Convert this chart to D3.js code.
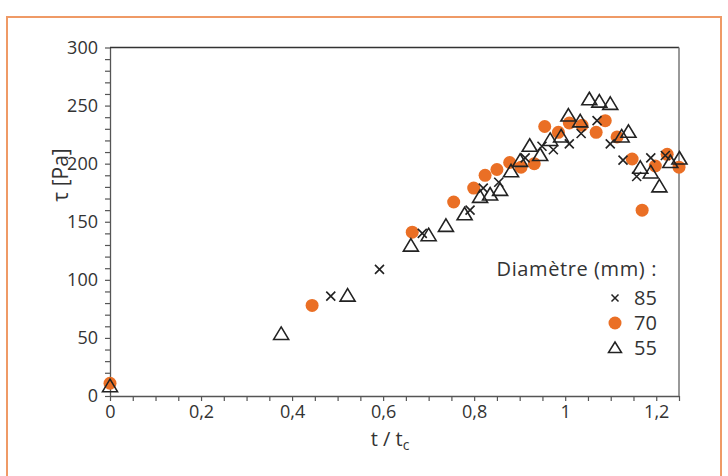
<!DOCTYPE html>
<html>
<head>
<meta charset="utf-8">
<title>Contrainte en fonction de t / tc</title>
<style>
    body { margin: 0; background: #fff; }
    text { font-family: "Open Sans", Lato, sans-serif; font-weight: 400; fill: #333; }
</style>
</head>
<body>
<svg id="chart" width="728" height="476"></svg>
<script src="https://cdn.jsdelivr.net/npm/d3@7"></script>
<script>
    // data
    const t85 = [0.485, 0.592, 0.686, 0.791, 0.820, 0.854, 0.912, 0.949, 0.974, 1.009, 1.035, 1.070, 1.099, 1.127, 1.157, 1.188, 1.220];
    const tau85 = [86, 109, 140, 160, 179, 184, 205, 215, 212, 217, 226, 237, 217, 203, 189, 205, 207];

    const t70 = [0, 0.444, 0.664, 0.755, 0.799, 0.824, 0.850, 0.878, 0.903, 0.932, 0.955, 0.985, 1.009, 1.037, 1.068, 1.088, 1.114, 1.147, 1.169, 1.198, 1.224, 1.250];
    const tau70 = [11, 78, 141, 167, 179, 190, 195, 201, 197, 200, 232, 227, 235, 233, 227, 237, 223, 204, 160, 198, 208, 197];

    const t55 = [0, 0.376, 0.522, 0.661, 0.700, 0.738, 0.779, 0.813, 0.835, 0.857, 0.881, 0.901, 0.922, 0.945, 0.967, 0.991, 1.007, 1.033, 1.053, 1.075, 1.099, 1.124, 1.139, 1.165, 1.188, 1.207, 1.231, 1.251];
    const tau55 = [8, 53, 86, 129, 138, 146, 156, 171, 173, 177, 193, 202, 215, 207, 220, 223, 241, 236, 255, 253, 251, 223, 227, 196, 192, 180, 201, 204];

    const xTickLabels = [0, 0.2, 0.4, 0.6, 0.8, 1, 1.2];
    const yTickLabels = [0, 50, 100, 150, 200, 250, 300];
    const legendTitle = "Diamètre (mm) :";
    const legendItems = ["85", "70", "55"];

    const orange = "#ea6f25";
    const ink = "#222";

    const svg = d3.select("#chart");

    // orange frame round the figure
    svg.append("rect")
        .attr("x", 7).attr("y", 17)
        .attr("width", 714).attr("height", 480)
        .attr("fill", "none")
        .attr("stroke", "#ef9a66")
        .attr("stroke-width", 2);

    const plotLeft = 110, plotRight = 679, plotTop = 47.5, plotBottom = 396;
    const x = d3.scaleLinear().domain([0, 1.25]).range([plotLeft, plotRight]);
    const y = d3.scaleLinear().domain([0, 300]).range([plotBottom, plotTop]);

    const fmt = d => String(+d.toFixed(2)).replace(".", ",");

    // x axis, minor ticks every 0.05
    const gx = svg.append("g")
        .attr("transform", "translate(0," + plotBottom + ")")
        .call(d3.axisBottom(x)
            .tickValues(d3.range(0, 26).map(i => i * 0.05))
            .tickSize(5).tickSizeOuter(0)
            .tickFormat(d => xTickLabels.some(v => Math.abs(v - d) < 1e-6) ? fmt(d) : ""));
    gx.select(".domain").attr("stroke", "#555").attr("stroke-width", 1.3);
    gx.selectAll(".tick line").attr("stroke", "#555").attr("stroke-width", 1.2);
    gx.selectAll(".tick text").attr("font-size", 18).attr("y", 7).attr("dy", "0.85em").attr("fill", "#333");

    // y axis, minor ticks every 10
    const gy = svg.append("g")
        .attr("transform", "translate(" + plotLeft + ",0)")
        .call(d3.axisLeft(y)
            .tickValues(d3.range(0, 310, 10))
            .tickSize(5).tickSizeOuter(0)
            .tickFormat(d => yTickLabels.includes(d) ? d : ""));
    gy.select(".domain").attr("stroke", "#555").attr("stroke-width", 1.3);
    gy.selectAll(".tick line").attr("stroke", "#555").attr("stroke-width", 1.2);
    gy.selectAll(".tick text").attr("font-size", 18).attr("x", -12).attr("fill", "#333");

    // top and right frame lines
    svg.append("line")
        .attr("x1", plotLeft).attr("x2", plotRight).attr("y1", plotTop).attr("y2", plotTop)
        .attr("stroke", "#333").attr("stroke-width", 1.5);
    svg.append("line")
        .attr("x1", plotRight).attr("x2", plotRight).attr("y1", plotTop).attr("y2", plotBottom)
        .attr("stroke", "#777").attr("stroke-width", 1.5);

    // axis titles
    svg.append("text")
        .attr("transform", "translate(68,175) rotate(-90)")
        .attr("text-anchor", "middle")
        .attr("font-size", 21)
        .text("τ [Pa]");

    const xt = svg.append("text")
        .attr("x", 390).attr("y", 446)
        .attr("text-anchor", "middle")
        .attr("font-size", 20);
    xt.append("tspan").text("t / t");
    xt.append("tspan").attr("font-size", 14).attr("dy", 4).text("c");

    const tri = "M0,-7.5L7.5,5L-7.5,5Z";
    const cross = "M-4.5,-4.5L4.5,4.5M-4.5,4.5L4.5,-4.5";

    // 70 mm: orange discs
    svg.append("g").selectAll("circle")
        .data(d3.zip(t70, tau70))
        .join("circle")
        .attr("cx", d => x(d[0]))
        .attr("cy", d => y(d[1]))
        .attr("r", 6.5)
        .attr("fill", orange);

    // 85 mm: crosses
    svg.append("g").selectAll("path")
        .data(d3.zip(t85, tau85))
        .join("path")
        .attr("transform", d => "translate(" + x(d[0]) + "," + y(d[1]) + ")")
        .attr("d", cross)
        .attr("fill", "none")
        .attr("stroke", ink)
        .attr("stroke-width", 1.6);

    // 55 mm: open triangles
    svg.append("g").selectAll("path")
        .data(d3.zip(t55, tau55))
        .join("path")
        .attr("transform", d => "translate(" + x(d[0]) + "," + y(d[1]) + ")")
        .attr("d", tri)
        .attr("fill", "none")
        .attr("stroke", ink)
        .attr("stroke-width", 1.6)
        .attr("stroke-linejoin", "miter");

    // legend
    const lg = svg.append("g");
    lg.append("text")
        .attr("x", 657).attr("y", 276)
        .attr("text-anchor", "end")
        .attr("font-size", 20)
        .attr("letter-spacing", 0.6)
        .text(legendTitle);

    const ly = [298, 323, 348];
    legendItems.forEach((label, i) => {
        lg.append("text")
            .attr("x", 634).attr("y", ly[i] + 7)
            .attr("font-size", 20)
            .text(label);
    });
    lg.append("path")
        .attr("transform", "translate(615," + ly[0] + ")")
        .attr("d", "M-3.5,-3.5L3.5,3.5M-3.5,3.5L3.5,-3.5")
        .attr("stroke", ink).attr("stroke-width", 1.5);
    lg.append("circle")
        .attr("cx", 615).attr("cy", ly[1]).attr("r", 6.5)
        .attr("fill", orange);
    lg.append("path")
        .attr("transform", "translate(615," + ly[2] + ")")
        .attr("d", "M0,-6L6.5,4.5L-6.5,4.5Z")
        .attr("fill", "none")
        .attr("stroke", ink).attr("stroke-width", 1.5);
</script>
</body>
</html>
